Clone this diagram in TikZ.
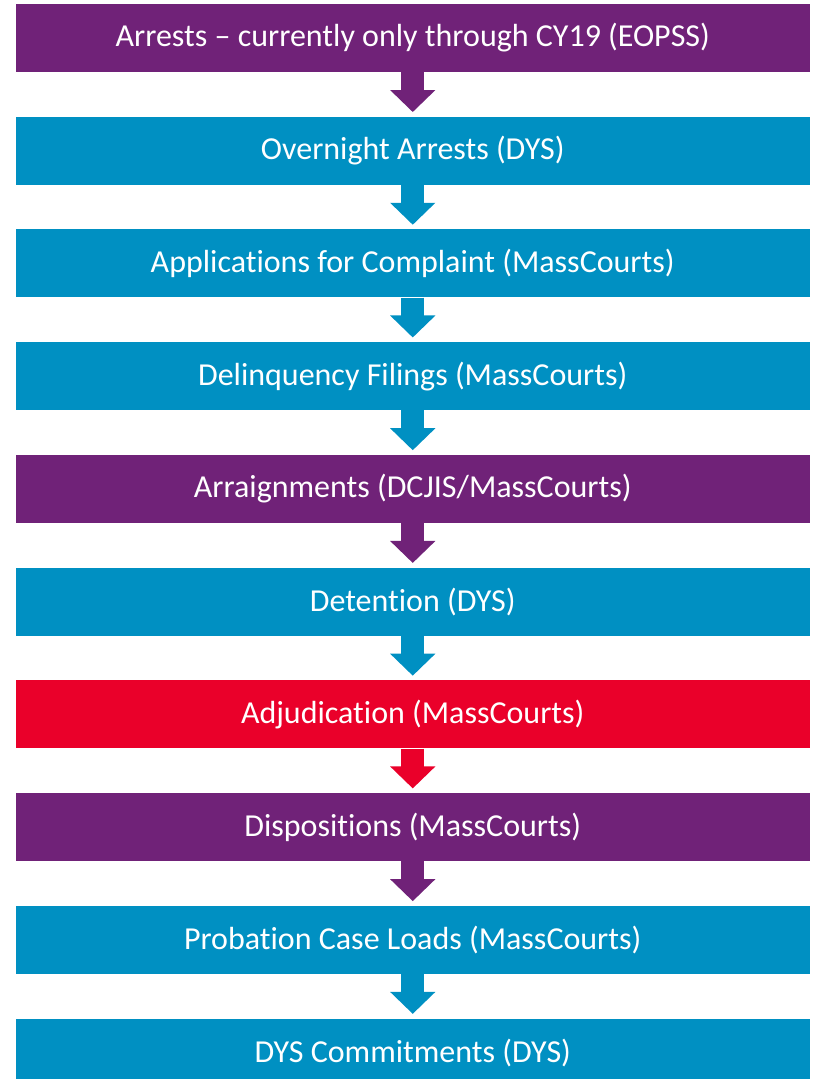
\documentclass[tikz,border=0pt]{standalone}
\usepackage{fontspec}
\setmainfont[Ligatures=NoCommon]{Carlito}
\usetikzlibrary{positioning,arrows.meta}
\definecolor{stagepurple}{RGB}{112,34,120}
\definecolor{stageblue}{RGB}{0,144,194}
\definecolor{stagered}{RGB}{234,0,42}
\tikzset{
  stage/.style={fill=#1, draw=none, text=white, minimum width=794.5pt, minimum height=68pt,
    inner sep=0pt, font=\fontsize{32}{36}\selectfont},
  flow/.style={draw=#1, line width=23pt, -{Triangle[width=44pt,length=22pt]}, shorten >=4.5pt}
}
\begin{document}
\begin{tikzpicture}[x=1pt,y=-1pt]
		\useasboundingbox (0,0) rectangle (813,1079);
		\node [stage=stagepurple] (arrests) at (412.75,38) {Arrests -- currently only through CY19 (EOPSS)};
		\node [stage=stageblue, below=44.33pt of arrests] (overnight) {Overnight Arrests (DYS)};
		\node [stage=stageblue, below=44.33pt of overnight] (complaint) {Applications for Complaint (MassCourts)};
		\node [stage=stageblue, below=44.33pt of complaint] (filings) {Delinquency Filings (MassCourts)};
		\node [stage=stagepurple, below=44.33pt of filings] (arraign) {Arraignments (DCJIS/MassCourts)};
		\node [stage=stageblue, below=44.33pt of arraign] (detention) {Detention (DYS)};
		\node [stage=stagered, below=44.33pt of detention] (adjud) {Adjudication (MassCourts)};
		\node [stage=stagepurple, below=44.33pt of adjud] (dispo) {Dispositions (MassCourts)};
		\node [stage=stageblue, below=44.33pt of dispo] (probation) {Probation Case Loads (MassCourts)};
		\node [stage=stageblue, below=44.33pt of probation] (commit) {DYS Commitments (DYS)};
		\draw [flow=stagepurple] (arrests.south) -- (overnight.north);
		\draw [flow=stageblue] (overnight.south) -- (complaint.north);
		\draw [flow=stageblue] (complaint.south) -- (filings.north);
		\draw [flow=stageblue] (filings.south) -- (arraign.north);
		\draw [flow=stagepurple] (arraign.south) -- (detention.north);
		\draw [flow=stageblue] (detention.south) -- (adjud.north);
		\draw [flow=stagered] (adjud.south) -- (dispo.north);
		\draw [flow=stagepurple] (dispo.south) -- (probation.north);
		\draw [flow=stageblue] (probation.south) -- (commit.north);
\end{tikzpicture}
\end{document}
